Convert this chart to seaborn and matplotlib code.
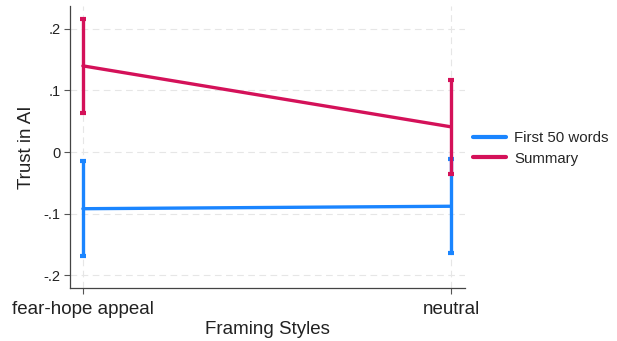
import matplotlib
matplotlib.use("Agg")
import matplotlib.pyplot as plt
import seaborn as sns
import pandas as pd

# Estimated marginal means of trust in AI with 95% confidence intervals
framing = ["fear-hope appeal", "neutral"]
groups = ["First 50 words", "Summary"]
first50_mean = [-0.092, -0.088]
first50_low = [-0.168, -0.164]
first50_high = [-0.015, -0.012]
summary_mean = [0.140, 0.041]
summary_low = [0.064, -0.035]
summary_high = [0.216, 0.117]

ytick_vals = [-0.2, -0.1, 0.0, 0.1, 0.2]
ytick_labels = ["-.2", "-.1", "0", ".1", ".2"]

colors = {"First 50 words": "#1a85ff", "Summary": "#d41159"}

df = pd.DataFrame({
    "Framing Styles": framing * 2,
    "x": [0, 1] * 2,
    "group": [groups[0]] * 2 + [groups[1]] * 2,
    "mean": first50_mean + summary_mean,
    "low": first50_low + summary_low,
    "high": first50_high + summary_high,
})

sns.set_theme(style="white")
plt.rcParams["font.family"] = ["Liberation Sans", "DejaVu Sans"]

fig = plt.figure(figsize=(6.17, 3.41), dpi=100)
ax = fig.add_axes([0.1135, 0.155, 0.64, 0.827])

# dashed reference grid at ticks
for yv in ytick_vals:
    ax.axhline(yv, color="#e6e6e6", lw=0.8, ls=(0, (6, 4)), zorder=0)
for xv in [0, 1]:
    ax.axvline(xv, color="#e6e6e6", lw=0.8, ls=(0, (6, 4)), zorder=0)

sns.lineplot(data=df, x="x", y="mean", hue="group", palette=colors,
             hue_order=groups, lw=2.4, ax=ax, legend=False, zorder=3,
             estimator=None)

for g in groups:
    sub = df[df["group"] == g]
    _, caps, bars = ax.errorbar(
        sub["x"], sub["mean"],
        yerr=[sub["mean"] - sub["low"], sub["high"] - sub["mean"]],
        fmt="none", ecolor=colors[g], elinewidth=2.4,
        capsize=2.0, capthick=3, zorder=3)
    for c in caps:
        c.set_solid_capstyle("round")

ax.set_xlim(-0.035, 1.038)
ax.set_ylim(-0.221, 0.237)
ax.set_xticks([0, 1])
ax.set_xticklabels(framing, fontsize=13.5)
ax.set_yticks(ytick_vals)
ax.set_yticklabels(ytick_labels, fontsize=10.5)
ax.set_xlabel("Framing Styles", fontsize=13.5, color="#222222", labelpad=2.5)
ax.set_ylabel("Trust in AI", fontsize=13.5, color="#222222", labelpad=6)
ax.tick_params(axis="x", pad=5)
ax.tick_params(axis="both", which="both", length=4, width=0.8,
               color="#555555", labelcolor="#222222",
               left=True, bottom=True)
ax.tick_params(axis="y", pad=3)
for side in ["top", "right"]:
    ax.spines[side].set_visible(False)
for side in ["left", "bottom"]:
    ax.spines[side].set_color("#444444")
    ax.spines[side].set_linewidth(0.9)

handles = [plt.Line2D([], [], color=colors[g], lw=3) for g in groups]
fig.legend(handles, groups, loc="center left", bbox_to_anchor=(0.766, 0.565),
           frameon=False, fontsize=10.8, handlelength=2.25,
           handletextpad=0.5, labelspacing=0.45, borderpad=0,
           borderaxespad=0)

fig.savefig("out.png", dpi=100)
